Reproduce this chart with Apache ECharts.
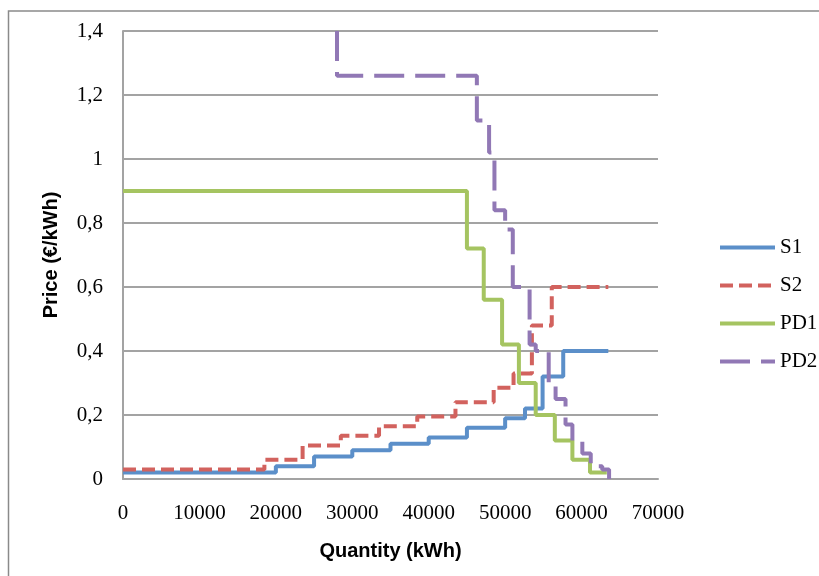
<!DOCTYPE html>
<html>
<head>
<meta charset="utf-8">
<script src="https://cdn.jsdelivr.net/npm/echarts@6/dist/echarts.min.js"></script>
<style>
  html, body { margin: 0; padding: 0; background: #fff; }
  #chart { width: 819px; height: 576px; }
</style>
</head>
<body>
<div id="chart"></div>
<script>
// quantity (kWh) where each price step starts, and the price of that step
const s1Qty   = [0, 20000, 25000, 30000, 35000, 40000, 45000, 50000, 52600, 54900, 57600, 63500];
const s1Price = [0.02, 0.04, 0.07, 0.09, 0.11, 0.13, 0.16, 0.19, 0.22, 0.32, 0.40, 0.40];

const s2Qty   = [0, 18500, 23500, 28500, 33500, 38500, 43500, 48500, 51100, 53500, 56100, 63500];
const s2Price = [0.03, 0.06, 0.105, 0.135, 0.165, 0.195, 0.24, 0.285, 0.33, 0.48, 0.60, 0.60];

const pd1Qty   = [0, 45000, 47200, 49600, 51800, 54000, 56500, 58800, 61100, 63300];
const pd1Price = [0.9, 0.72, 0.56, 0.42, 0.30, 0.20, 0.12, 0.06, 0.02, 0.02];

const pd2Qty   = [28000, 28000, 46300, 47900, 48600, 50000, 51000, 53200, 54000, 55700, 56600, 57900, 58800, 60100, 61200, 62700, 63600];
const pd2Price = [1.4, 1.26, 1.12, 1.02, 0.84, 0.78, 0.60, 0.42, 0.40, 0.30, 0.25, 0.17, 0.12, 0.08, 0.04, 0.03, 0];

const seriesNames = ['S1', 'S2', 'PD1', 'PD2'];
const xTicks = { min: 0, max: 70000, step: 10000 };
const yTicks = { min: 0, max: 1.4, step: 0.2 };

function pairs(q, p) {
    return q.map((v, i) => [v, p[i]]);
}

const chart = echarts.init(document.getElementById('chart'));
const serif = 'Liberation Serif';

function stepLine(name, data, color, type) {
    return {
        name: name,
        type: 'line',
        step: 'end',
        data: data,
        symbol: 'none',
        itemStyle: { color: color },
        lineStyle: { color: color, width: 4, type: type },
        emphasis: { disabled: true },
        animation: false
    };
}

const option = {
    backgroundColor: '#fff',
    animation: false,
    grid: { left: 123, right: 161, top: 31, bottom: 97 },
    graphic: [{
        type: 'rect',
        shape: { x: 8.5, y: 11, width: 1000, height: 1000 },
        style: { fill: 'none', stroke: '#8a8a8a', lineWidth: 1.5 },
        silent: true
    }],
    legend: {
        orient: 'vertical',
        left: 713,
        top: 232,
        itemWidth: 55,
        itemHeight: 14,
        itemGap: 17,
        itemStyle: { opacity: 0 },
        lineStyle: { width: 4 },
        data: seriesNames,
        textStyle: { fontFamily: serif, fontSize: 21, color: '#000' }
    },
    xAxis: {
        type: 'value',
        min: xTicks.min,
        max: xTicks.max,
        interval: xTicks.step,
        name: 'Quantity (kWh)',
        nameLocation: 'middle',
        nameGap: 62,
        nameTextStyle: { fontFamily: 'Liberation Sans', fontWeight: 'bold', fontSize: 20, color: '#000' },
        axisLine: { show: true, lineStyle: { color: '#a3a3a3', width: 2 } },
        axisTick: { show: false },
        splitLine: { show: false },
        axisLabel: { fontFamily: serif, fontSize: 21, color: '#000', margin: 24, formatter: v => String(v) }
    },
    yAxis: {
        type: 'value',
        min: yTicks.min,
        max: yTicks.max,
        interval: yTicks.step,
        name: 'Price (€/kWh)',
        nameLocation: 'middle',
        nameGap: 62,
        nameTextStyle: { fontFamily: 'Liberation Sans', fontWeight: 'bold', fontSize: 20, color: '#000' },
        axisLine: { show: true, lineStyle: { color: '#a3a3a3', width: 2 } },
        axisTick: { show: false },
        splitLine: { show: true, lineStyle: { color: '#a3a3a3', width: 2 } },
        axisLabel: {
            fontFamily: serif, fontSize: 21, color: '#000', margin: 20,
            formatter: v => String(+v.toFixed(1)).replace('.', ',')
        }
    },
    series: [
        stepLine('S1', pairs(s1Qty, s1Price), '#5b8fc9', 'solid'),
        stepLine('S2', pairs(s2Qty, s2Price), '#d2625e', [13, 6]),
        stepLine('PD1', pairs(pd1Qty, pd1Price), '#a5c461', 'solid'),
        stepLine('PD2', pairs(pd2Qty, pd2Price), '#9178b5', [30, 11])
    ]
};

chart.setOption(option);
</script>
</body>
</html>
